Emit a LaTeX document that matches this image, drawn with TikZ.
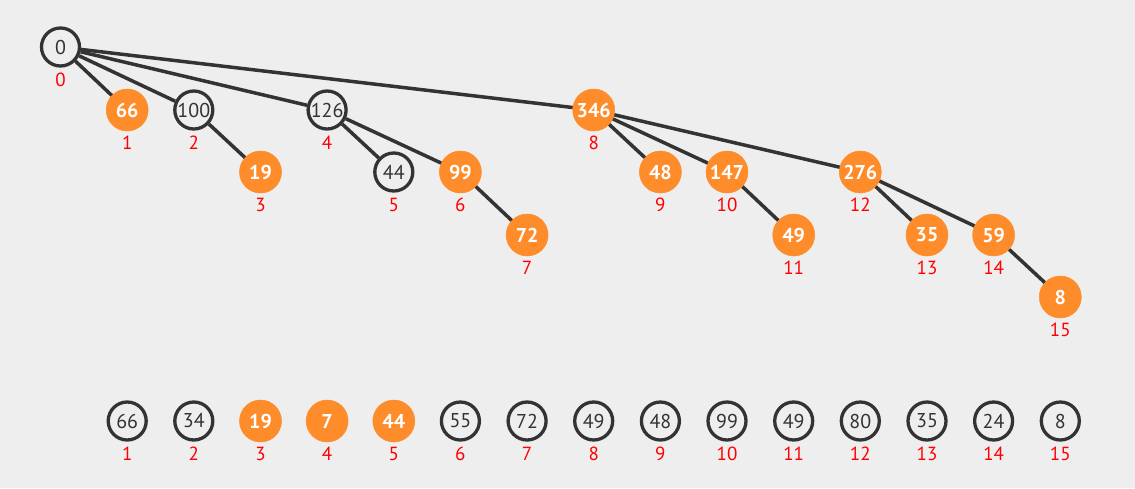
\documentclass[tikz,border=0pt]{standalone}
\usepackage{fontspec}
\setmainfont{PT Sans}
\definecolor{bg}{HTML}{EEEEEE}
\definecolor{org}{HTML}{FF8C2A}
\definecolor{dk}{HTML}{333333}
\definecolor{lbl}{HTML}{FF0000}
\tikzset{
  hl/.style={circle,fill=org,draw=org,line width=0.5pt,minimum size=42pt,inner sep=0pt,text=white,font=\fontsize{20}{20}\selectfont\bfseries},
  pl/.style={circle,fill=bg,draw=dk,line width=3.3pt,minimum size=38pt,inner sep=0pt,text=dk,font=\fontsize{20}{20}\selectfont},
  idx/.style={text=lbl,font=\fontsize{19}{19}\selectfont,inner sep=0pt},
  edge/.style={draw=dk,line width=3.5pt}
}
\begin{document}
\begin{tikzpicture}[x=1pt,y=-1pt]
\useasboundingbox[fill=bg] (0,0) rectangle (1135,488);
% tree nodes
\node[pl] (t0)  at (60.5,47) {0};
\node[hl] (t1)  at (127.2,110) {66};
\node[pl] (t2)  at (193.8,110) {100};
\node[hl] (t3)  at (260.5,172) {19};
\node[pl] (t4)  at (327.1,110) {126};
\node[pl] (t5)  at (393.8,172) {44};
\node[hl] (t6)  at (460.4,172) {99};
\node[hl] (t7)  at (527.1,235) {72};
\node[hl] (t8)  at (593.7,110) {346};
\node[hl] (t9)  at (660.4,172) {48};
\node[hl] (t10) at (727,172) {147};
\node[hl] (t11) at (793.7,235) {49};
\node[hl] (t12) at (860.3,172) {276};
\node[hl] (t13) at (927,235) {35};
\node[hl] (t14) at (993.6,235) {59};
\node[hl] (t15) at (1060.3,297) {8};
% edges
\foreach \a/\b in {t0/t1,t0/t2,t0/t4,t0/t8,t2/t3,t4/t5,t4/t6,t6/t7,t8/t9,t8/t10,t8/t12,t10/t11,t12/t13,t12/t14,t14/t15}
  \draw[edge] (\a) -- (\b);
% tree labels
\foreach \i in {0,...,15}
  \node[idx] (tl\i) at ([yshift=-32.5pt]t\i.center) {\i};
% array row
\node[pl] (a1)  at (127.2,421) {66};
\node[pl] (a2)  at (193.8,421) {34};
\node[hl] (a3)  at (260.5,421) {19};
\node[hl] (a4)  at (327.1,421) {7};
\node[hl] (a5)  at (393.8,421) {44};
\node[pl] (a6)  at (460.4,421) {55};
\node[pl] (a7)  at (527.1,421) {72};
\node[pl] (a8)  at (593.7,421) {49};
\node[pl] (a9)  at (660.4,421) {48};
\node[pl] (a10) at (727,421) {99};
\node[pl] (a11) at (793.7,421) {49};
\node[pl] (a12) at (860.3,421) {80};
\node[pl] (a13) at (927,421) {35};
\node[pl] (a14) at (993.6,421) {24};
\node[pl] (a15) at (1060.3,421) {8};
\foreach \i in {1,...,15}
  \node[idx] (al\i) at ([yshift=-33pt]a\i.center) {\i};
\end{tikzpicture}
\end{document}
